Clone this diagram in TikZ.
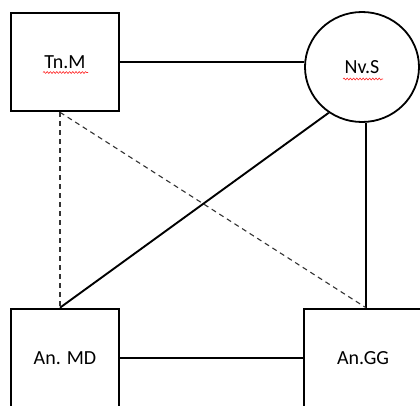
\documentclass[tikz,border=0pt]{standalone}
\usepackage{fontspec}
\setmainfont{Carlito}
\usetikzlibrary{shapes.geometric, decorations.pathmorphing}

\begin{document}
\begin{tikzpicture}[x=1pt, y=-1pt,
    box/.style={draw, line width=2.6pt, rectangle, minimum width=108pt, minimum height=98pt,
      inner sep=0pt, font=\fontsize{20}{24}\selectfont},
    ring/.style={draw, line width=1.8pt, ellipse, minimum width=114pt, minimum height=110pt,
      inner sep=0pt, font=\fontsize{20}{24}\selectfont},
    link/.style={line width=1.9pt},
    guide/.style={line width=1.1pt, dash pattern=on 5pt off 4pt, black!80},
    wavy/.style={red!85, line width=0.6pt, decorate,
      decoration={snake, amplitude=0.9pt, segment length=3.2pt}}]
    \clip (0,0) rectangle (420,405);
    \fill[white] (0,0) rectangle (420,405);

    \node[box] (tnm) at (65,62) {Tn.M};
    \node[ring] (nvs) at (362,67) {Nv.S};
    \node[box] (anmd) at (65,358) {An. MD};
    \node[box, minimum width=118pt] (angg) at (363,358) {An.GG};

    %\foreach \n in {tnm,nvs,anmd,angg} \fill[red] (\n) circle (2pt);

    % spell check marks under the names
    \draw[wavy] ([xshift=-22,yshift=-10.5]tnm.center) -- ++(45,0);
    \draw[wavy] ([xshift=-19,yshift=-12]nvs.center) -- ++(40,0);

    \draw[link] (tnm.east) -- (tnm.east -| nvs.west);
    \draw[link] (nvs.234) -- ([xshift=-5]anmd.north);
    \draw[link] ([xshift=3]angg.north) -- ([xshift=3]angg.north |- nvs.south);
    \draw[link] (anmd.east) -- (angg.west);

    \draw[guide] ([xshift=-5]tnm.south) -- ([xshift=-5]anmd.north);
    \draw[guide] ([xshift=-5]tnm.south) -- ([xshift=3]angg.north);
\end{tikzpicture}
\end{document}
